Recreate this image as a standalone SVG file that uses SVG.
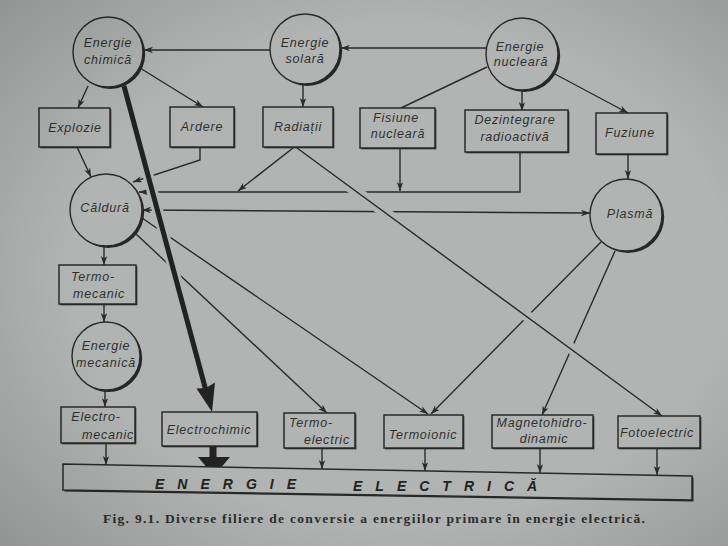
<svg xmlns="http://www.w3.org/2000/svg" width="728" height="546" viewBox="0 0 728 546">
<defs>
<style>
.bg{fill:#b1b4b2}
.ln{fill:none;stroke:#2a2a2a;stroke-width:1.4}
.ar{marker-end:url(#arr)}
.halo{fill:none;stroke:#b1b4b2;stroke-linecap:butt}
.box{fill:#b1b4b2;stroke:#2a2a2a;stroke-width:1.5}
.shd{fill:#262626}
.cir{fill:#b1b4b2;stroke:#2a2a2a;stroke-width:1.4}
.t{font-family:"Liberation Sans",Arial,sans-serif;font-style:italic;font-size:12.5px;letter-spacing:0.8px;fill:#303030;text-anchor:middle}
.big{font-family:"Liberation Sans",Arial,sans-serif;font-style:italic;font-weight:bold;font-size:14px;letter-spacing:13px;fill:#222}
.cap{font-family:"Liberation Serif","Times New Roman",serif;font-weight:bold;font-size:13.5px;fill:#2c2c2c}
</style>
<marker id="arr" markerUnits="userSpaceOnUse" markerWidth="10" markerHeight="7" refX="9" refY="3.2" orient="auto-start-reverse" viewBox="0 0 10 7">
<path d="M0,0 L9,3.2 L0,6.4 L2.6,3.2 Z" fill="#2a2a2a"/>
</marker>
<radialGradient id="vig" cx="0.55" cy="0.5" r="0.75">
<stop offset="0.6" stop-color="#000" stop-opacity="0"/>
<stop offset="1" stop-color="#000" stop-opacity="0.18"/>
</radialGradient>
</defs>
<rect class="bg" x="0" y="0" width="728" height="546"/>

<g id="connectors">
<path class="ln ar" d="M270,50 L144,50"/>
<path class="ln ar" d="M486,48 L341,48"/>
<path class="ln" d="M487,67 L401,108"/>
<path class="ln ar" d="M522,90 L522,111"/>
<path class="ln ar" d="M553,73 L628,113"/>
<path class="ln ar" d="M628,154 L628,179"/>
<path class="ln ar" d="M88,86 L78,108"/>
<path class="ln ar" d="M140,68 L203,107"/>
<path class="ln ar" d="M303,84 L303,107"/>
<path class="ln ar" d="M77,147 L91,177"/>
<path class="ln ar" d="M200,147 V160 L133,182"/>
<path class="ln ar" d="M293,148 L238,191"/>
<path class="ln ar" d="M400,148 L400,191"/>
<path class="ln ar" d="M520,152 V192 H139"/>
<path class="ln ar" style="marker-start:url(#arr)" d="M142,210 L590,213"/>
<path class="ln ar" d="M104,246 L104,265"/>
<path class="ln ar" d="M104,304 L104,322"/>
<path class="ln ar" d="M105,390 L105,407"/>
<path class="ln ar" d="M142,218 L428,414"/>
<path class="ln ar" d="M135,233 L327,413"/>
<path class="ln ar" d="M601,242 L431,414"/>
<path class="ln ar" d="M615,251 L542,415"/>
<path class="ln ar" d="M106,443 L106,465"/>
<path class="ln ar" d="M322,448 L322,469"/>
<path class="ln ar" d="M425,448 L425,471"/>
<path class="ln ar" d="M540,448 L540,473"/>
<path class="ln ar" d="M657,448 L657,475"/>
<path class="halo" stroke-width="11" d="M139.9,145 L179.1,290"/>
<path class="halo" stroke-width="11" d="M335,176 L590,362"/>
<path class="ln ar" d="M297,148 L662,416"/>
<path fill="none" stroke="#222" stroke-width="5" d="M124,86 L205.5,389"/>
<path fill="#222" d="M212,412 L215,382.5 L205.8,388 L196.5,388.5 Z"/>
<rect x="209.5" y="446" width="7" height="13" fill="#222"/>
<path fill="#222" d="M198,457 L230,457 L214,476 Z"/>
</g>

<g id="n-chimica">
<circle class="shd" cx="110.2" cy="54" r="35"/>
<circle class="cir" cx="108" cy="52" r="35"/>
<text class="t" x="108" y="47">Energie</text>
<text class="t" x="108" y="64">chimică</text>
</g>
<g id="n-solara">
<circle class="shd" cx="307.2" cy="51" r="35"/>
<circle class="cir" cx="305" cy="49" r="35"/>
<text class="t" x="305" y="47">Energie</text>
<text class="t" x="305" y="63">solară</text>
</g>
<g id="n-nucleara">
<circle class="shd" cx="524.2" cy="56" r="36"/>
<circle class="cir" cx="522" cy="54" r="36"/>
<text class="t" x="520" y="51">Energie</text>
<text class="t" x="521" y="66">nucleară</text>
</g>
<g id="n-explozie">
<rect class="shd" x="40.3" y="109.3" width="71" height="39"/>
<rect class="box" x="39" y="108" width="71" height="39"/>
<text class="t" x="75" y="132">Explozie</text>
</g>
<g id="n-ardere">
<rect class="shd" x="171.3" y="108.3" width="64" height="40"/>
<rect class="box" x="170" y="107" width="64" height="40"/>
<text class="t" x="202" y="131">Ardere</text>
</g>
<g id="n-radiatii">
<rect class="shd" x="264.3" y="108.3" width="70" height="40"/>
<rect class="box" x="263" y="107" width="70" height="40"/>
<text class="t" x="298" y="131">Radiații</text>
</g>
<g id="n-fisiune">
<rect class="shd" x="361.3" y="109.3" width="75" height="40"/>
<rect class="box" x="360" y="108" width="75" height="40"/>
<text class="t" x="396" y="122">Fisiune</text>
<text class="t" x="398" y="138">nucleară</text>
</g>
<g id="n-dezintegrare">
<rect class="shd" x="466.3" y="111.3" width="103" height="42"/>
<rect class="box" x="465" y="110" width="103" height="42"/>
<text class="t" x="515" y="124">Dezintegrare</text>
<text class="t" x="515" y="141">radioactivă</text>
</g>
<g id="n-fuziune">
<rect class="shd" x="597.3" y="114.3" width="71" height="41"/>
<rect class="box" x="596" y="113" width="71" height="41"/>
<text class="t" x="630" y="137">Fuziune</text>
</g>
<g id="n-caldura">
<circle class="shd" cx="108.2" cy="212" r="36"/>
<circle class="cir" cx="106" cy="210" r="36"/>
<text class="t" x="105" y="212">Căldură</text>
</g>
<g id="n-plasma">
<circle class="shd" cx="628.2" cy="217" r="36"/>
<circle class="cir" cx="626" cy="215" r="36"/>
<text class="t" x="630" y="218">Plasmă</text>
</g>
<g id="n-termomecanic">
<rect class="shd" x="60.3" y="266.3" width="77" height="39"/>
<rect class="box" x="59" y="265" width="77" height="39"/>
<text class="t" x="93" y="281">Termo-</text>
<text class="t" x="99" y="298">mecanic</text>
</g>
<g id="n-mecanica">
<circle class="shd" cx="108.2" cy="358" r="34"/>
<circle class="cir" cx="106" cy="356" r="34"/>
<text class="t" x="106" y="350">Energie</text>
<text class="t" x="106" y="367">mecanică</text>
</g>
<g id="n-electromecanic">
<rect class="shd" x="62.3" y="408.3" width="74" height="36"/>
<rect class="box" x="61" y="407" width="74" height="36"/>
<text class="t" x="96" y="421">Electro-</text>
<text class="t" x="108" y="439">mecanic</text>
</g>
<g id="n-electrochimic">
<rect class="shd" x="163.3" y="413.3" width="95" height="34"/>
<rect class="box" x="162" y="412" width="95" height="34"/>
<text class="t" x="209" y="434">Electrochimic</text>
</g>
<g id="n-termoelectric">
<rect class="shd" x="285.3" y="414.3" width="71" height="35"/>
<rect class="box" x="284" y="413" width="71" height="35"/>
<text class="t" x="311" y="427">Termo-</text>
<text class="t" x="327" y="444">electric</text>
</g>
<g id="n-termoionic">
<rect class="shd" x="385.3" y="416.3" width="79" height="33"/>
<rect class="box" x="384" y="415" width="79" height="33"/>
<text class="t" x="423" y="439">Termoionic</text>
</g>
<g id="n-mhd">
<rect class="shd" x="493.3" y="416.3" width="101" height="33"/>
<rect class="box" x="492" y="415" width="101" height="33"/>
<text class="t" x="542" y="427">Magnetohidro-</text>
<text class="t" x="544" y="443">dinamic</text>
</g>
<g id="n-fotoelectric">
<rect class="shd" x="619.3" y="417.3" width="82" height="32"/>
<rect class="box" x="618" y="416" width="82" height="32"/>
<text class="t" x="657" y="437">Fotoelectric</text>
</g>
<g id="n-energie-electrica">
<path class="shd" d="M64.5,465.5 L693.5,477.5 L693.5,501.5 L64.5,491.5 Z"/>
<path class="box" stroke-width="1.8" d="M63,464 L692,476 L692,500 L63,490 Z"/>
<text class="big"><tspan x="155" y="489">ENERGIE</tspan><tspan x="353" y="491">ELECTRICĂ</tspan></text>
</g>

<text class="cap" x="103" y="523" textLength="542" lengthAdjust="spacing">Fig. 9.1. Diverse filiere de conversie a energiilor primare în energie electrică.</text>

<rect x="0" y="0" width="728" height="546" fill="url(#vig)" pointer-events="none"/>
</svg>
